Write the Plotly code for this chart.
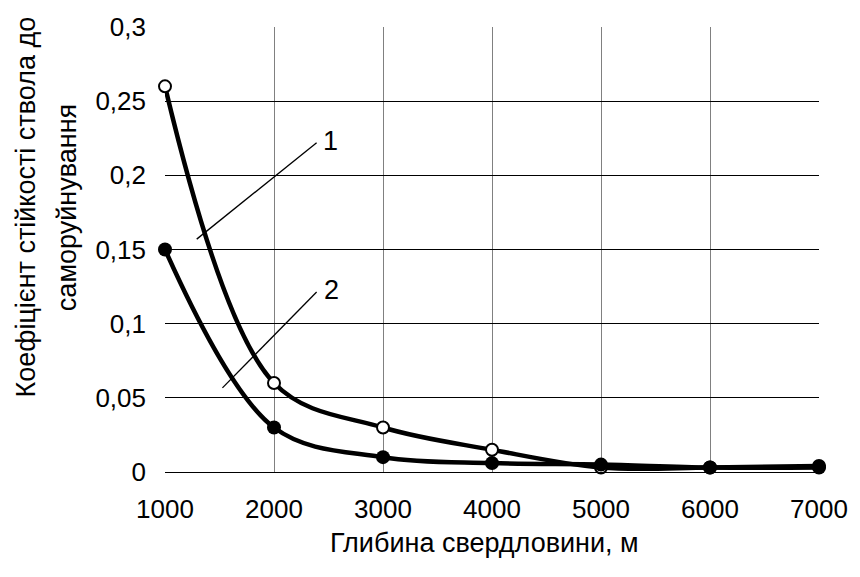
import plotly.graph_objects as go

depth = [1000, 2000, 3000, 4000, 5000, 6000, 7000]
curve1 = [0.26, 0.06, 0.03, 0.015, 0.003, 0.003, 0.004]
curve2 = [0.15, 0.03, 0.01, 0.006, 0.005, 0.003, 0.003]

x_ticks = [1000, 2000, 3000, 4000, 5000, 6000, 7000]
y_ticks = [0, 0.05, 0.1, 0.15, 0.2, 0.25, 0.3]
y_tick_text = ["0", "0,05", "0,1", "0,15", "0,2", "0,25", "0,3"]

FONT = "Liberation Sans, Arial, sans-serif"
FS = 26
TS = 27

fig = go.Figure()
fig.add_trace(go.Scatter(
    x=depth, y=curve1, mode="lines+markers",
    line=dict(color="black", width=4.5, shape="spline", smoothing=1.0),
    marker=dict(symbol="circle", size=12, color="white", line=dict(color="black", width=2)),
    showlegend=False, cliponaxis=False))
fig.add_trace(go.Scatter(
    x=depth, y=curve2, mode="lines+markers",
    line=dict(color="black", width=4.5, shape="spline", smoothing=1.0),
    marker=dict(symbol="circle", size=14, color="black"),
    showlegend=False, cliponaxis=False))

# leader lines for curve labels
fig.add_shape(type="line", x0=1291, y0=0.157, x1=2391, y1=0.222,
              line=dict(color="black", width=1.3), layer="above")
fig.add_shape(type="line", x0=1527, y0=0.0567, x1=2391, y1=0.1213,
              line=dict(color="black", width=1.3), layer="above")
fig.add_annotation(x=2518, y=0.2233, text="1", showarrow=False,
                   xanchor="center", yanchor="middle",
                   font=dict(family=FONT, size=TS, color="black"))
fig.add_annotation(x=2527, y=0.1227, text="2", showarrow=False,
                   xanchor="center", yanchor="middle",
                   font=dict(family=FONT, size=TS, color="black"))

# y title (two lines)
fig.add_annotation(xref="paper", yref="paper", x=-0.212, y=0.595,
                   xanchor="center", yanchor="middle",
                   text="Коефіцієнт стійкості ствола до", textangle=-90,
                   showarrow=False, font=dict(family=FONT, size=TS, color="black"))
fig.add_annotation(xref="paper", yref="paper", x=-0.15, y=0.595,
                   xanchor="center", yanchor="middle",
                   text="саморуйнування", textangle=-90,
                   showarrow=False, font=dict(family=FONT, size=TS, color="black"))
# x title
fig.add_annotation(xref="paper", yref="paper", x=0.488, y=-0.16,
                   xanchor="center", yanchor="middle",
                   text="Глибина свердловини, м",
                   showarrow=False, font=dict(family=FONT, size=TS, color="black"))

fig.update_xaxes(range=[1000, 7000], tickvals=x_ticks, showgrid=True,
                 gridcolor="#808080", gridwidth=1, zeroline=False,
                 showline=True, linecolor="black", linewidth=1, mirror=False,
                 ticks="", tickfont=dict(family=FONT, size=FS, color="black"),
                 ticklabelstandoff=14)
fig.update_yaxes(range=[0, 0.3], tickvals=y_ticks, ticktext=y_tick_text, showgrid=True,
                 gridcolor="black", gridwidth=1, zeroline=False,
                 showline=False, ticks="",
                 tickfont=dict(family=FONT, size=FS, color="black"),
                 ticklabelstandoff=18)

fig.update_layout(width=860, height=577, margin=dict(l=165, r=35, t=22, b=105),
                  paper_bgcolor="white", plot_bgcolor="white",
                  font=dict(family=FONT, color="black"))

fig.write_html("out.html")
